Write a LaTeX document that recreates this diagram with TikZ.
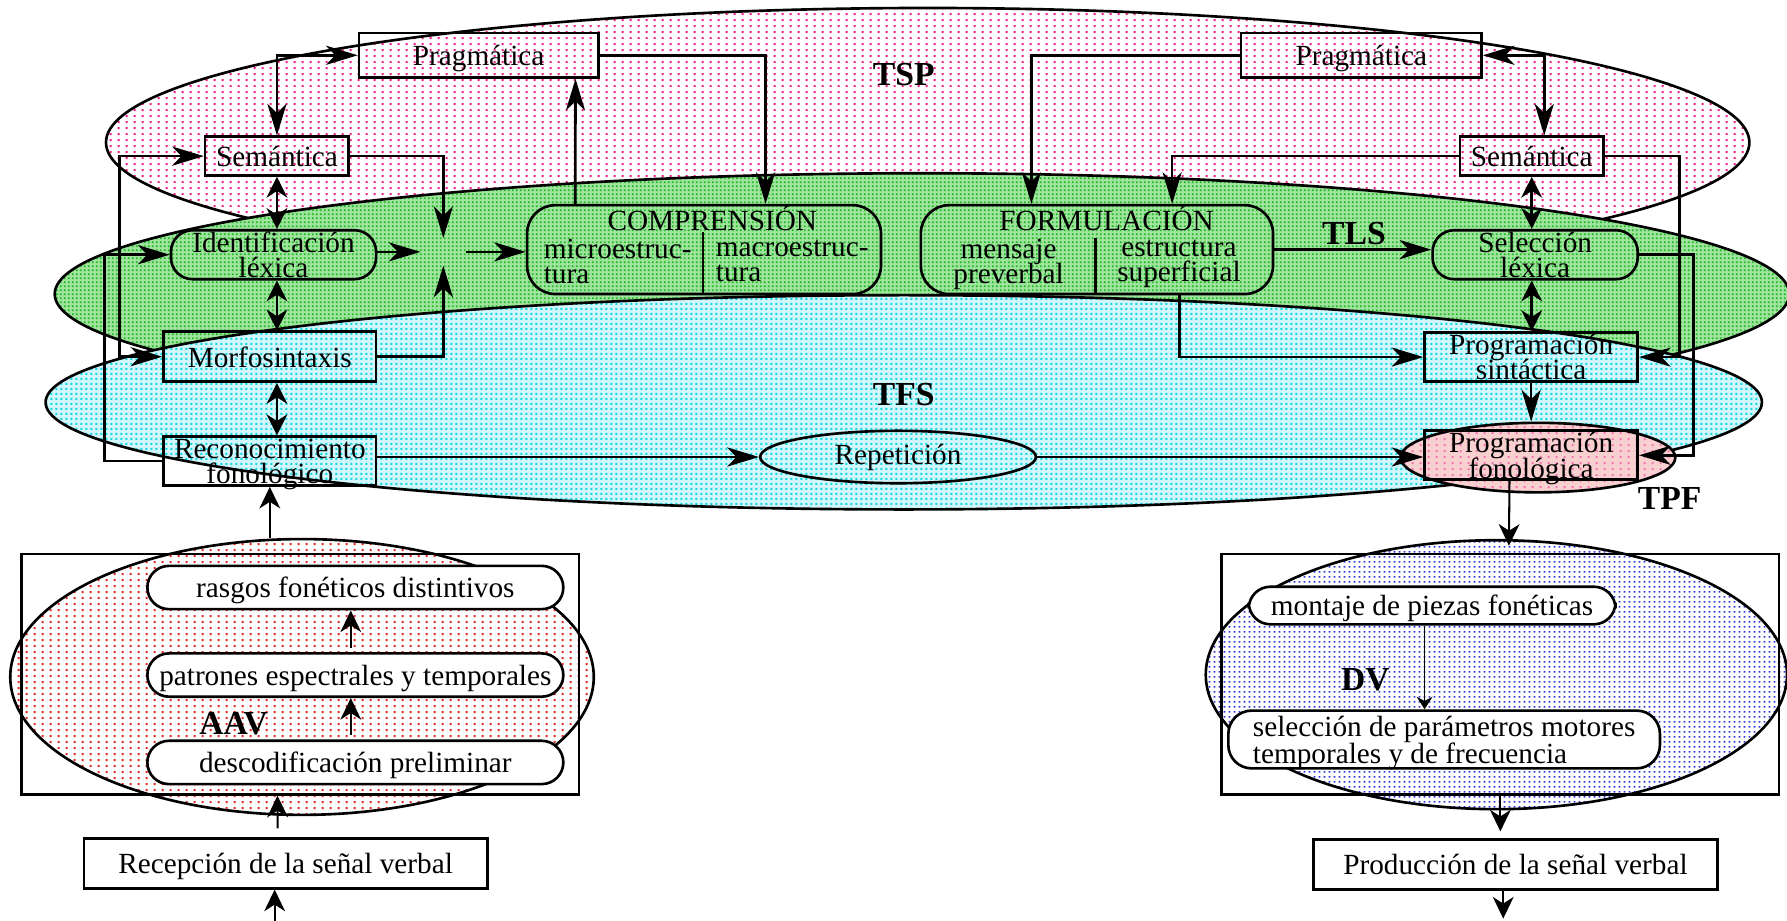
\documentclass[tikz,border=0pt]{standalone}
\usepackage{fontspec}
\setmainfont{Liberation Serif}
\usetikzlibrary{arrows.meta,calc,shapes.geometric,patterns.meta}

\newcommand{\px}{0.137mm}
\setlength{\lineskiplimit}{-100pt}

\definecolor{rosa}{RGB}{236,30,130}
\definecolor{verde}{RGB}{30,185,30}
\definecolor{fondoverde}{RGB}{160,228,160}
\definecolor{cian}{RGB}{20,215,230}
\definecolor{fondocian}{RGB}{210,246,250}
\definecolor{rojo}{RGB}{225,40,40}
\definecolor{azul}{RGB}{40,50,210}
\definecolor{fondotpf}{RGB}{248,208,208}

\tikzdeclarepattern{name=puntosA, type=uncolored,
  bounding box={(0mm,0mm) and (0.92mm,0.7mm)}, tile size={(0.92mm,0.7mm)},
  code={\fill (0.34mm,0.23mm) rectangle (0.58mm,0.47mm);}}
\tikzdeclarepattern{name=puntosB, type=uncolored,
  bounding box={(0mm,0mm) and (0.44mm,0.44mm)}, tile size={(0.44mm,0.44mm)},
  code={\fill (0.11mm,0.11mm) rectangle (0.33mm,0.33mm);}}
\tikzdeclarepattern{name=puntosC, type=uncolored,
  bounding box={(0mm,0mm) and (0.6mm,0.56mm)}, tile size={(0.6mm,0.56mm)},
  code={\fill (0.18mm,0.16mm) rectangle (0.42mm,0.4mm);}}
\tikzdeclarepattern{name=puntosD, type=uncolored,
  bounding box={(0mm,0mm) and (0.6mm,0.56mm)}, tile size={(0.6mm,0.56mm)},
  code={\fill (0.2mm,0.18mm) rectangle (0.4mm,0.38mm);}}

\begin{document}
\begin{tikzpicture}[x=\px,y=-\px,>={Stealth[length=3.8mm,width=2.3mm,inset=1.1mm]},line width=0.9pt,
  font=\fontsize{10}{8.6}\selectfont,
  caja/.style 2 args={draw,minimum width=#1*\px,minimum height=#2*\px,inner sep=0pt,align=center,text depth=0pt},
  redondo/.style 2 args={caja={#1}{#2},rounded corners=2.6mm},
  bloque/.style 2 args={redondo={#1}{#2},fill=white},
  columna/.style={inner sep=0pt,text depth=0pt,font=\fontsize{10}{8.6}\selectfont},
  zona/.style={ellipse,draw,inner sep=0pt},
  etiqueta/.style={font=\fontsize{11.5}{12}\selectfont\bfseries,inner sep=0pt},
  doble/.style={{Stealth[length=2.5mm,width=2.5mm,inset=0.8mm]}-{Stealth[length=2.5mm,width=2.5mm,inset=0.8mm]}},
  media/.style={-{Stealth[length=2.6mm,width=2.5mm,inset=0.8mm]},line width=0.7pt},
  fina/.style={-{Stealth[length=1.5mm,width=1.9mm,inset=0.5mm]},line width=0.5pt}]

\useasboundingbox (0,0) rectangle (1568,808);

% zonas
\draw[preaction={fill=white},pattern=puntosA,pattern color=rosa] (814,125) ellipse [x radius=721,y radius=118];
\draw[preaction={fill=fondoverde},pattern=puntosB,pattern color=verde] (809,258) ellipse [x radius=761,y radius=106];
\draw[preaction={fill=fondocian},pattern=puntosC,pattern color=cian] (793,353) ellipse [x radius=753,y radius=94];
\node[zona,minimum width=241*\px,minimum height=61*\px,preaction={fill=fondotpf},pattern=puntosA,pattern color=rosa!60] (tpf) at (1349.5,401.5) {};

\node[etiqueta] (tsptxt) at (793,65) {TSP};
\node[etiqueta] (tlstxt) at (1188,205) {TLS};
\node[etiqueta] (tfstxt) at (793,346) {TFS};
\node[etiqueta] (tpftxt) at (1465,437) {TPF};

% comprension
\node[caja={210}{39}] (prag1) at (420,48.5) {Pragmática};
\node[caja={126}{34}] (sem1) at (243,137) {Semántica};
\node[redondo={180}{43}] (ident) at (240,223.5) {Identificación\\léxica};
\node[caja={186.5}{44}] (morfo) at (236.75,313) {Morfosintaxis};
\node[caja={186.5}{43}] (reco) at (236.75,404.5) {Reconocimiento\\fonológico};
\node[minimum width=38*\px,minimum height=22*\px,inner sep=0pt] (junta) at (389,221) {};
\node[redondo={310.5}{78},rounded corners=3.4mm] (compr) at (617.75,219) {};
\node[columna] (comprtit) at (625,191) {COMPRENSIÓN};
\node[columna,anchor=west,align=left] (micro) at (476,229) {microestruc-\\tura};
\node[columna,anchor=west,align=left] (macro) at (627,229) {macroestruc-\\tura};
\draw ($(compr.south)+(-0.75,0)$) -- ++(0,-56);

% formulacion
\node[caja={211}{39}] (prag2) at (1194.5,48.5) {Pragmática};
\node[caja={126}{34}] (sem2) at (1344,137) {Semántica};
\node[redondo={180}{43}] (selec) at (1347,223.5) {Selección\\léxica};
\node[caja={187}{43.4}] (progsin) at (1343.5,313.3) {Programación\\sintáctica};
\node[caja={187}{43}] (progfon) at (1343.5,399.5) {Programación\\fonológica};
\node[redondo={309}{78},rounded corners=3.4mm] (formu) at (962.5,219) {};
\node[columna] (formutit) at (971,191) {FORMULACIÓN};
\node[columna,align=center] (mensaje) at (885,229) {mensaje\\preverbal};
\node[columna,align=center] (estruc) at (1034.5,229) {estructura\\superficial};
\draw ($(formu.south)+(-1,0)$) -- ++(0,-50);

\node[zona,minimum width=242*\px,minimum height=46*\px] (repet) at (788,401) {Repetición};

% analisis acustico
\node[zona,minimum width=512*\px,minimum height=242*\px,preaction={fill=white},pattern=puntosA,pattern color=rojo] (aav) at (265,594) {};
\node[caja={489}{211}] (aavcaja) at (263.4,591.5) {};
\node[bloque={365}{38}] (rasgos) at (311.8,515.5) {rasgos fonéticos distintivos};
\node[bloque={365}{38}] (patrones) at (311.8,592.3) {patrones espectrales y temporales};
\node[bloque={365}{38}] (descod) at (311.8,669) {descodificación preliminar};
\node[etiqueta] (aavtxt) at (205,635) {AAV};
\node[caja={354}{43.4}] (recep) at (250.65,757.7) {Recepción de la señal verbal};

% articulacion
\node[zona,minimum width=510*\px,minimum height=236*\px,preaction={fill=white},pattern=puntosD,pattern color=azul] (dv) at (1313,592) {};
\node[caja={489}{211}] (dvcaja) at (1316.5,591.5) {};
\node[bloque={321.7}{33}] (montaje) at (1256.6,531.3) {montaje de piezas fonéticas};
\node[bloque={378.7}{50.7},rounded corners=2.8mm,align=left,font=\fontsize{10}{9.2}\selectfont] (selpar) at (1267.15,648.85) {selección de parámetros motores\\temporales y de frecuencia};
\node[etiqueta] (dvtxt) at (1198,596) {DV};
\node[caja={354.3}{43.8}] (prod) at (1329.75,758.4) {Producción de la señal verbal};

\coordinate (entrada) at (241,808);
\coordinate (salida) at (1319,806);

% conexiones izquierda
\draw[<->] (sem1.north) |- (prag1.west);
\draw[->] (prag1.east) -| ($(compr.north)+(54,0)$);
\draw[->] ($(compr.north)+(-113,0)$) -- ($(prag1.south)+(85,0)$);
\draw[->] (sem1.east) -| (junta.north);
\draw[->] (ident.east |- junta.west) -- (junta.west);
\draw[->] (morfo.east) -| (junta.south);
\draw[->] (junta.east) -- (compr.west |- junta.east);
\draw[doble] (sem1.south) -- (sem1.south |- ident.north);
\draw[doble] (sem1.south |- ident.south) -- (sem1.south |- morfo.north);
\draw[doble] (sem1.south |- morfo.south) -- (sem1.south |- reco.north);
\draw[<->] (morfo.west) -| ($(sem1.west)+(-74,0)$) -- (sem1.west);
\draw[->] (reco.west) -| ($(ident.west)+(-57,0)$) -- (ident.west);
\draw[->] (reco.east |- repet.west) -- (repet.west);
\draw[->] (repet.east) -- (progfon.west |- repet.east);

% conexiones derecha
\draw[<->] ($(sem2.north)+(11,0)$) |- (prag2.east);
\draw[->] (prag2.west) -| ($(formu.north)+(-57.5,0)$);
\draw[->] (sem2.west) -| ($(formu.north)+(66,0)$);
\draw[->] (formu.east) -- (selec.west |- formu.east);
\draw[->] ($(formu.south)+(72.5,0)$) |- (progsin.west);
\draw[doble] (sem2.south) -- (sem2.south |- selec.north);
\draw[doble] (sem2.south |- selec.south) -- (sem2.south |- progsin.north);
\draw[->] (progsin.south) -- (progsin.south |- tpf.north);
\draw[->] (sem2.east) -| ($(progsin.east)+(35.5,0)$) -- (progsin.east);
\draw[->] (selec.east) -| ($(progfon.east)+(48,0)$) -- (progfon.east);

% entrada y salida
\draw[media] (entrada) -- (entrada |- recep.south);
\draw[media] ($(recep.north)+(-7,-8)$) -- ($(aavcaja.south)+(-20,0)$);
\foreach \a/\b in {descod/patrones,patrones/rasgos}
  \draw[media] ($(\a.north)+(-4,-4)$) -- ($(\b.south)+(-4,0)$);
\draw[media] (aav.north -| reco.south) -- (reco.south);
\draw[media] ($(progfon.south)+(-19,0)$) -- ($(dv.north)+(11,6)$);
\draw[fina] ($(montaje.south)+(-6.6,0)$) -- ($(selpar.north)+(-17.15,0)$);
\draw[media,shorten >=0.8mm] (dvcaja.south) -- (dvcaja.south |- prod.north);
\draw[media] (prod.south -| salida) -- (salida);

\end{tikzpicture}
\end{document}
